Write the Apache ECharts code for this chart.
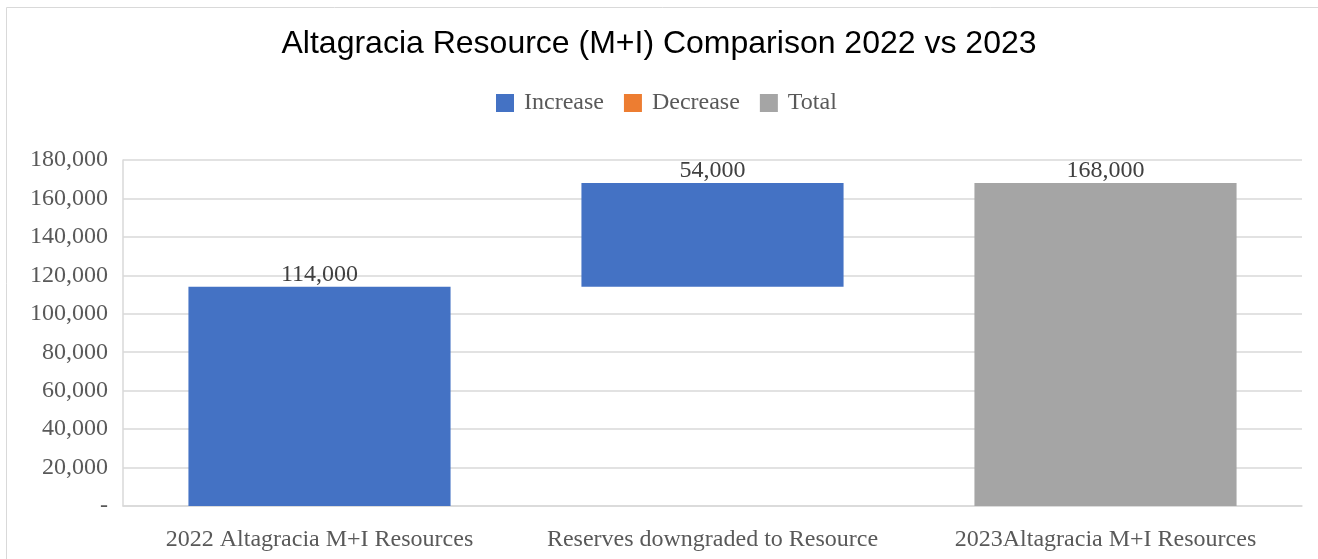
<!DOCTYPE html>
<html>
<head>
<meta charset="utf-8">
<script src="https://cdn.jsdelivr.net/npm/echarts@6/dist/echarts.min.js"></script>
<style>
html,body{margin:0;padding:0;background:#fff;}
#chart{width:1318px;height:559px;}
</style>
</head>
<body>
<div id="chart"></div>
<script>
const titleText = 'Altagracia Resource (M+I) Comparison 2022 vs 2023';
const categories = ['2022 Altagracia M+I Resources', 'Reserves downgraded to Resource', '2023Altagracia M+I Resources'];
const increaseValues = [114000, 54000, null];
const decreaseValues = [null, null, null];
const totalValues = [null, null, 168000];
const legendNames = ['Increase', 'Decrease', 'Total'];
const yTicks = [0, 20000, 40000, 60000, 80000, 100000, 120000, 140000, 160000, 180000];

// invisible base for the waterfall: running sum before each step
const baseValues = [];
let running = 0;
for (let i = 0; i < categories.length; i++) {
  if (totalValues[i] != null) { baseValues.push(0); running = totalValues[i]; }
  else {
    const inc = increaseValues[i] || 0, dec = decreaseValues[i] || 0;
    baseValues.push(dec ? running - dec : running);
    running = running + inc - dec;
  }
}

const fmt = v => v === 0 ? '-' : v.toLocaleString('en-US');
const serif = '"Liberation Serif", "Times New Roman", serif';
const labelStyle = {
  show: true, position: 'top', distance: 0,
  fontFamily: serif, fontSize: 24, color: '#404040',
  formatter: p => fmt(p.value)
};

const chart = echarts.init(document.getElementById('chart'));
chart.setOption({
  animation: false,
  graphic: [{
    type: 'rect', z: -1,
    shape: { x: 6.5, y: 7.5, width: 1400, height: 700 },
    style: { fill: 'none', stroke: '#d9d9d9', lineWidth: 1 }
  }],
  title: {
    text: titleText, left: 'center', top: 23,
    textStyle: { fontFamily: '"Liberation Sans", Arial, sans-serif', fontSize: 32, fontWeight: 'normal', color: '#000' }
  },
  legend: {
    data: legendNames, left: 496, top: 91, padding: 0,
    itemWidth: 18, itemHeight: 18, itemGap: 20, icon: 'rect',
    textStyle: { fontFamily: serif, fontSize: 24, color: '#595959', padding: [0, 0, 0, 5] }
  },
  grid: { left: 123, right: 16, top: 160, bottom: 53 },
  xAxis: {
    type: 'category', data: categories,
    axisLine: { show: true, lineStyle: { color: '#d9d9d9', width: 1.5 } },
    axisTick: { show: false },
    axisLabel: { fontFamily: serif, fontSize: 24, color: '#595959', margin: 22, interval: 0 }
  },
  yAxis: {
    type: 'value', min: yTicks[0], max: yTicks[yTicks.length - 1], interval: yTicks[1] - yTicks[0],
    axisLine: { show: true, lineStyle: { color: '#d9d9d9', width: 1.5 } },
    axisTick: { show: false },
    splitLine: { lineStyle: { color: '#d9d9d9', width: 1.5 } },
    axisLabel: { fontFamily: serif, fontSize: 24, color: '#595959', margin: 15, formatter: fmt }
  },
  series: [
    { name: 'base', type: 'bar', stack: 'w', data: baseValues, barWidth: '66.7%',
      itemStyle: { color: 'transparent' }, emphasis: { disabled: true }, silent: true },
    { name: 'Increase', type: 'bar', stack: 'w', data: increaseValues.map(v => v == null ? '-' : v),
      itemStyle: { color: '#4472c4' }, label: labelStyle },
    { name: 'Decrease', type: 'bar', stack: 'w', data: decreaseValues.map(v => v == null ? '-' : v),
      itemStyle: { color: '#ed7d31' }, label: labelStyle },
    { name: 'Total', type: 'bar', stack: 'w', data: totalValues.map(v => v == null ? '-' : v),
      itemStyle: { color: '#a5a5a5' }, label: labelStyle }
  ]
});
</script>
</body>
</html>
